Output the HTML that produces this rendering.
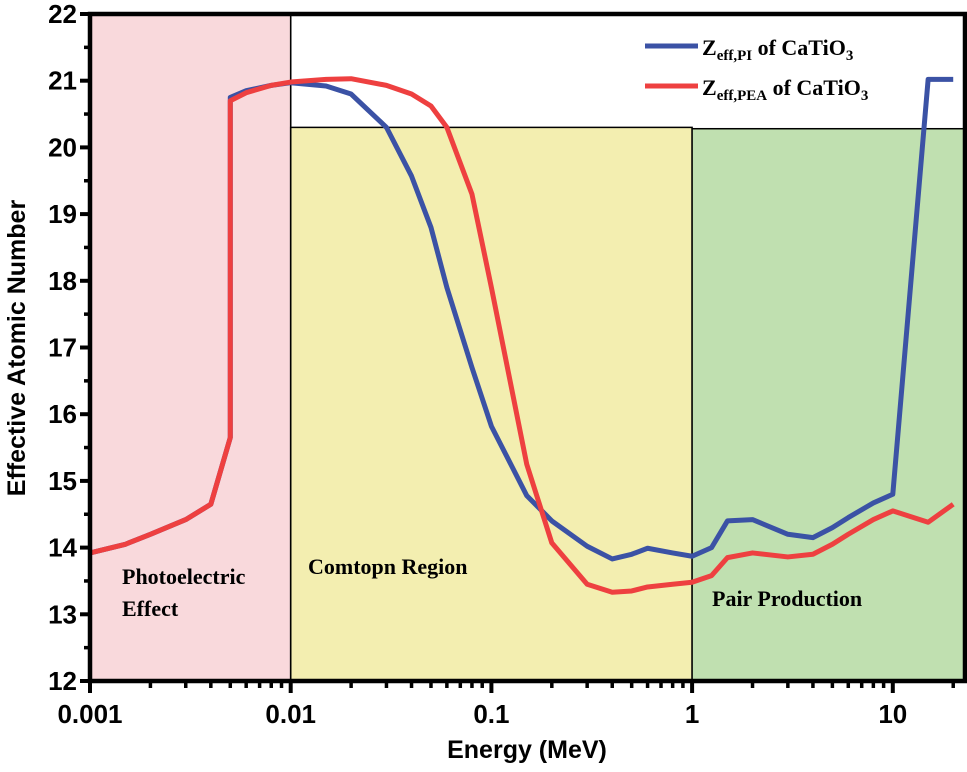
<!DOCTYPE html>
<html><head><meta charset="utf-8"><style>
body{margin:0;background:#fff;position:relative}
svg{display:block}
.tl{font-family:"Liberation Sans",sans-serif;font-weight:bold;font-size:26px;fill:#000}
.rl{font-family:"Liberation Serif",serif;font-weight:bold;font-size:22px;fill:#000}
</style></head><body>
<svg id="chart" width="967" height="772" viewBox="0 0 967 772">
<g id="bg"></g><g id="lines"></g><g id="axes"></g>
</svg>
<script>
const energies=[0.001,0.0015,0.002,0.003,0.004,0.005,0.005,0.006,0.008,0.01,0.015,0.02,0.03,0.04,0.05,0.06,0.08,0.1,0.15,0.2,0.3,0.4,0.5,0.6,0.8,1,1.25,1.5,2,3,4,5,6,8,10,15,20];
const zeffPI=[13.92,14.05,14.2,14.42,14.65,15.65,20.75,20.85,20.93,20.97,20.92,20.8,20.3,19.57,18.8,17.9,16.7,15.82,14.78,14.4,14.02,13.83,13.9,13.99,13.92,13.87,14.0,14.4,14.42,14.2,14.15,14.3,14.45,14.67,14.8,21.02,21.02];
const zeffPEA=[13.92,14.05,14.2,14.42,14.65,15.65,20.7,20.82,20.93,20.98,21.02,21.03,20.93,20.8,20.62,20.3,19.3,17.9,15.25,14.07,13.45,13.33,13.35,13.41,13.45,13.48,13.58,13.85,13.92,13.86,13.9,14.05,14.2,14.42,14.55,14.38,14.65];
const yTicks=[12,13,14,15,16,17,18,19,20,21,22];
const xTicks=[0.001,0.01,0.1,1,10];
const xTickLabels=["0.001","0.01","0.1","1","10"];
const NS="http://www.w3.org/2000/svg";
const L=90,R=965,T=14,B=681;
function xs(e){return L+(Math.log10(e)+3)*200.7;}
function ys(v){return B-(v-12)*(B-T)/10;}
function mk(tag,at,parent){const e=document.createElementNS(NS,tag);for(const k in at)e.setAttribute(k,at[k]);parent.appendChild(e);return e;}
const bg=document.getElementById('bg'),ln=document.getElementById('lines'),ax=document.getElementById('axes');
let r;
r=mk('rect',{x:xs(0.001),y:T,width:xs(0.01)-xs(0.001),height:B-T,fill:'#f9d9dc',stroke:'#000','stroke-width':1.5},bg);


r=mk('rect',{x:xs(0.01),y:ys(20.3),width:xs(1)-xs(0.01),height:B-ys(20.3),fill:'#f3eeb0',stroke:'#000','stroke-width':1.5},bg);


r=mk('rect',{x:xs(1),y:ys(20.28),width:R-xs(1),height:B-ys(20.28),fill:'#c0e0b0',stroke:'#000','stroke-width':1.5},bg);


mk('line',{x1:xs(0.01),y1:T,x2:xs(0.01),y2:B,stroke:'#000','stroke-width':1.5},bg);
function series(vals,color,name){
  const p=mk('polyline',{points:energies.map((e,i)=>xs(e)+','+ys(vals[i])).join(' '),fill:'none',stroke:color,'stroke-width':5,'stroke-linejoin':'round'},ln);
  
  
}
series(zeffPI,'#3b52a5','zeff-pi-line');
series(zeffPEA,'#ee4040','zeff-pea-line');
mk('rect',{x:L,y:T,width:R-L,height:B-T,fill:'none',stroke:'#000','stroke-width':4.5},ax);
yTicks.forEach(v=>{
  mk('line',{x1:L-10,y1:ys(v),x2:L,y2:ys(v),stroke:'#000','stroke-width':4},ax);
  if(v<22)mk('line',{x1:L-6,y1:ys(v+0.5),x2:L,y2:ys(v+0.5),stroke:'#000','stroke-width':3.5},ax);
  const t=mk('text',{x:L-13,y:ys(v)+9,'text-anchor':'end',class:'tl'},ax);t.textContent=v;
  
  
});
xTicks.forEach((e,i)=>{
  mk('line',{x1:xs(e),y1:B,x2:xs(e),y2:B+12,stroke:'#000','stroke-width':4},ax);
  for(let k=2;k<=9;k++){const x=xs(e*k);if(x<R)mk('line',{x1:x,y1:B,x2:x,y2:B+7,stroke:'#000','stroke-width':3.5},ax);}
  const t=mk('text',{x:xs(e),y:B+42,'text-anchor':'middle',class:'tl'},ax);t.textContent=xTickLabels[i];
  
  
});
</script>
<svg width="967" height="772" style="position:absolute;left:0;top:0">
<text x="527" y="758" text-anchor="middle" class="tl" style="font-size:25px">Energy (MeV)</text>
<text transform="translate(25,348) rotate(-90)" text-anchor="middle" class="tl" style="font-size:25px">Effective Atomic Number</text>
<text x="122" y="584" class="rl">Photoelectric</text>
<text x="122" y="616" class="rl">Effect</text>
<text x="308" y="574" class="rl">Comtopn Region</text>
<text x="712" y="606" class="rl">Pair Production</text>
<g>
<line x1="645" y1="46" x2="698" y2="46" stroke="#3b52a5" stroke-width="5"/>
<text x="702" y="55" class="rl">Z<tspan font-size="15" dy="5">eff,PI</tspan><tspan dy="-5"> of CaTiO</tspan><tspan font-size="15" dy="5">3</tspan></text>
<line x1="645" y1="86" x2="698" y2="86" stroke="#ee4040" stroke-width="5"/>
<text x="702" y="95" class="rl">Z<tspan font-size="15" dy="5">eff,PEA</tspan><tspan dy="-5"> of CaTiO</tspan><tspan font-size="15" dy="5">3</tspan></text>
</g>
</svg>
</body></html>
